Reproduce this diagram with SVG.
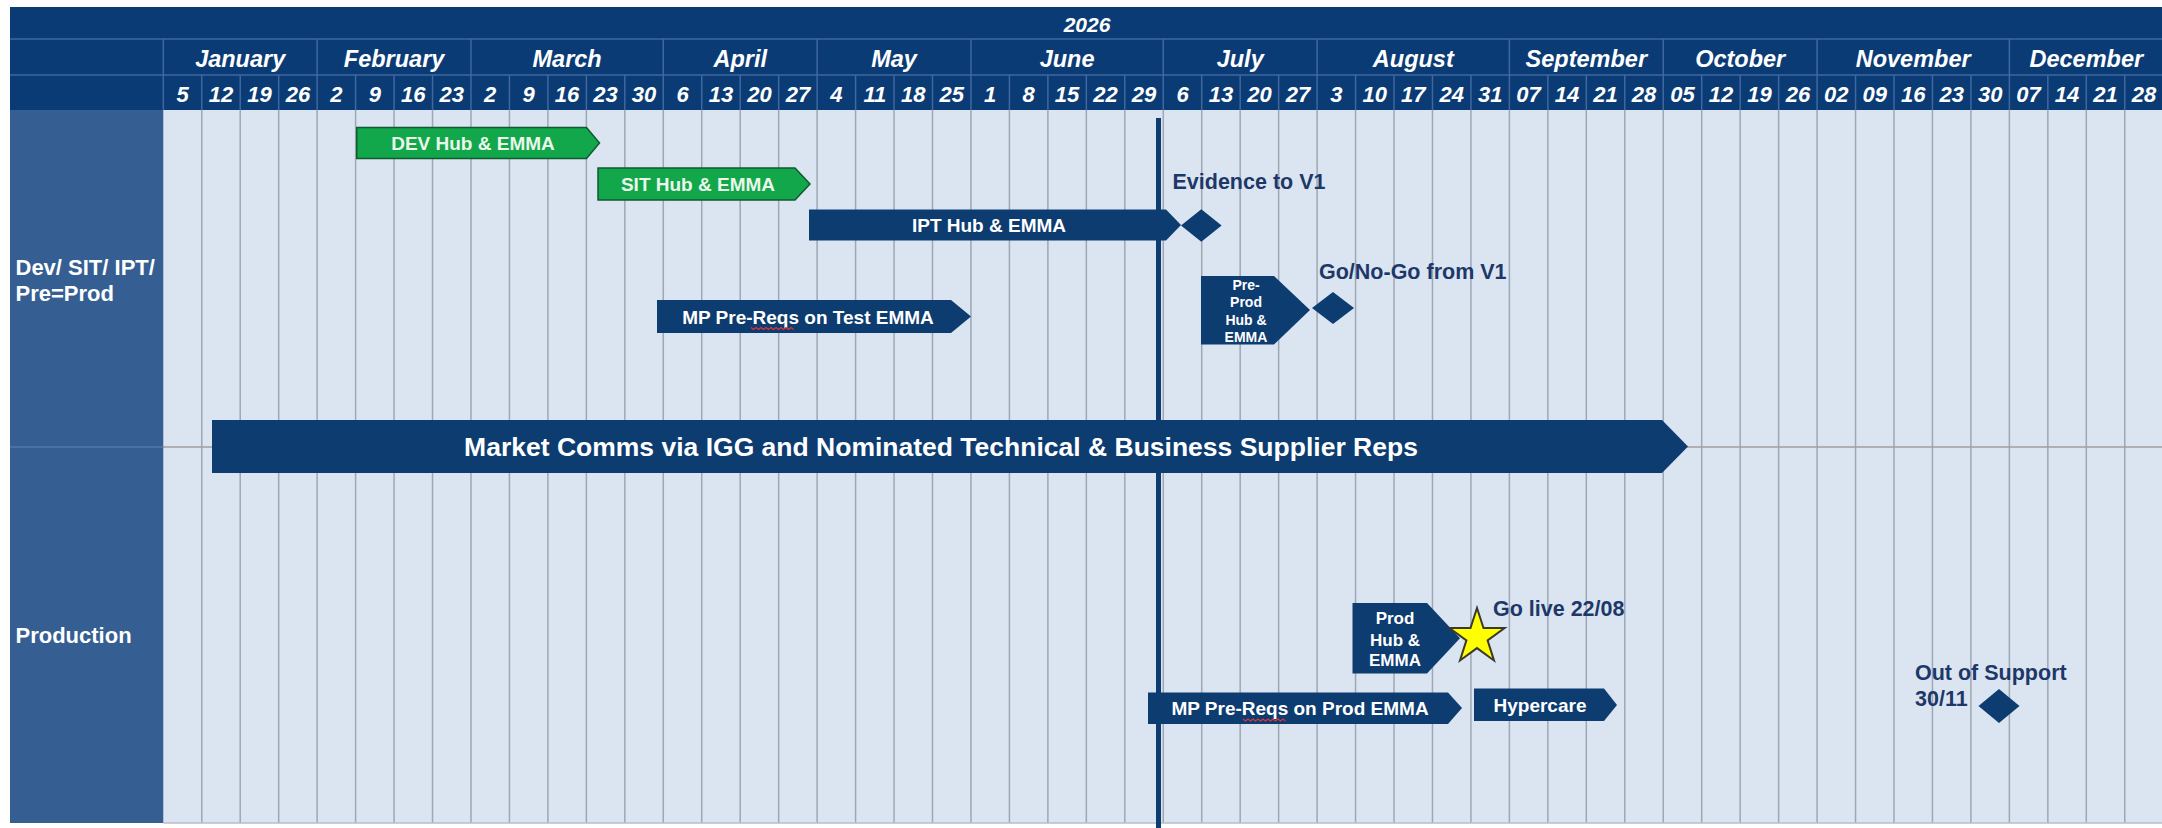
<svg xmlns="http://www.w3.org/2000/svg" width="2162" height="828" viewBox="0 0 2162 828">
<defs>
<style>
.hdrtxt{font-family:"Liberation Sans",Arial,sans-serif;font-weight:bold;font-style:italic;fill:#ffffff;text-anchor:middle}
.yr{font-size:21px}
.mon{font-size:23.5px}
.wk{font-size:22px}
.lbl{font-family:"Liberation Sans",Arial,sans-serif;font-weight:bold;fill:#ffffff;font-size:22px}
.bt{font-family:"Liberation Sans",Arial,sans-serif;font-weight:bold;fill:#ffffff;font-size:19px;text-anchor:middle}
.gt{fill:#eaf7ea}
.ms{font-family:"Liberation Sans",Arial,sans-serif;font-weight:bold;fill:#1d3868;font-size:21.5px}
.navy{fill:#0d3c71}
.green{fill:#13a74b;stroke:#0f5a30;stroke-width:1.5}
.grid{stroke:#9ea8b5;stroke-width:1.5}
.hline{stroke:#3f67a0;stroke-width:1.5}
.squig{fill:none;stroke:#e03434;stroke-width:1.2}
</style>
</defs>
<rect x="0" y="0" width="2162" height="828" fill="#ffffff"/>
<g id="header">
<rect x="10" y="7" width="2152" height="103" fill="#0b3b74"/>
<line class="hline" x1="10" y1="39" x2="2162" y2="39"/>
<line class="hline" x1="10" y1="75" x2="2162" y2="75"/>
<g class="hline">
<line x1="163.3" y1="39" x2="163.3" y2="110"/>
<line x1="317.14" y1="39" x2="317.14" y2="75"/>
<line x1="470.98" y1="39" x2="470.98" y2="75"/>
<line x1="663.28" y1="39" x2="663.28" y2="75"/>
<line x1="817.12" y1="39" x2="817.12" y2="75"/>
<line x1="970.96" y1="39" x2="970.96" y2="75"/>
<line x1="1163.26" y1="39" x2="1163.26" y2="75"/>
<line x1="1317.1" y1="39" x2="1317.1" y2="75"/>
<line x1="1509.4" y1="39" x2="1509.4" y2="75"/>
<line x1="1663.24" y1="39" x2="1663.24" y2="75"/>
<line x1="1817.08" y1="39" x2="1817.08" y2="75"/>
<line x1="2009.38" y1="39" x2="2009.38" y2="75"/>
</g>
<path class="hline" d="M201.76 75V110M240.22 75V110M278.68 75V110M317.14 75V110M355.6 75V110M394.06 75V110M432.52 75V110M470.98 75V110M509.44 75V110M547.9 75V110M586.36 75V110M624.82 75V110M663.28 75V110M701.74 75V110M740.2 75V110M778.66 75V110M817.12 75V110M855.58 75V110M894.04 75V110M932.5 75V110M970.96 75V110M1009.42 75V110M1047.88 75V110M1086.34 75V110M1124.8 75V110M1163.26 75V110M1201.72 75V110M1240.18 75V110M1278.64 75V110M1317.1 75V110M1355.56 75V110M1394.02 75V110M1432.48 75V110M1470.94 75V110M1509.4 75V110M1547.86 75V110M1586.32 75V110M1624.78 75V110M1663.24 75V110M1701.7 75V110M1740.16 75V110M1778.62 75V110M1817.08 75V110M1855.54 75V110M1894 75V110M1932.46 75V110M1970.92 75V110M2009.38 75V110M2047.84 75V110M2086.3 75V110M2124.76 75V110"/>
<text class="hdrtxt yr" x="1087" y="32">2026</text>
<g class="hdrtxt mon">
<text x="240.2" y="66.5">January</text>
<text x="394.1" y="66.5">February</text>
<text x="567.1" y="66.5">March</text>
<text x="740.2" y="66.5">April</text>
<text x="894" y="66.5">May</text>
<text x="1067.1" y="66.5">June</text>
<text x="1240.2" y="66.5">July</text>
<text x="1413.3" y="66.5">August</text>
<text x="1586.3" y="66.5">September</text>
<text x="1740.2" y="66.5">October</text>
<text x="1913.2" y="66.5">November</text>
<text x="2086.3" y="66.5">December</text>
</g>
<g class="hdrtxt wk">
<text x="182.5" y="101.5">5</text>
<text x="221" y="101.5">12</text>
<text x="259.5" y="101.5">19</text>
<text x="297.9" y="101.5">26</text>
<text x="336.4" y="101.5">2</text>
<text x="374.8" y="101.5">9</text>
<text x="413.3" y="101.5">16</text>
<text x="451.8" y="101.5">23</text>
<text x="490.2" y="101.5">2</text>
<text x="528.7" y="101.5">9</text>
<text x="567.1" y="101.5">16</text>
<text x="605.6" y="101.5">23</text>
<text x="644.1" y="101.5">30</text>
<text x="682.5" y="101.5">6</text>
<text x="721" y="101.5">13</text>
<text x="759.4" y="101.5">20</text>
<text x="797.9" y="101.5">27</text>
<text x="836.4" y="101.5">4</text>
<text x="874.8" y="101.5">11</text>
<text x="913.3" y="101.5">18</text>
<text x="951.7" y="101.5">25</text>
<text x="990.2" y="101.5">1</text>
<text x="1028.7" y="101.5">8</text>
<text x="1067.1" y="101.5">15</text>
<text x="1105.6" y="101.5">22</text>
<text x="1144" y="101.5">29</text>
<text x="1182.5" y="101.5">6</text>
<text x="1221" y="101.5">13</text>
<text x="1259.4" y="101.5">20</text>
<text x="1297.9" y="101.5">27</text>
<text x="1336.3" y="101.5">3</text>
<text x="1374.8" y="101.5">10</text>
<text x="1413.3" y="101.5">17</text>
<text x="1451.7" y="101.5">24</text>
<text x="1490.2" y="101.5">31</text>
<text x="1528.6" y="101.5">07</text>
<text x="1567.1" y="101.5">14</text>
<text x="1605.6" y="101.5">21</text>
<text x="1644" y="101.5">28</text>
<text x="1682.5" y="101.5">05</text>
<text x="1720.9" y="101.5">12</text>
<text x="1759.4" y="101.5">19</text>
<text x="1797.9" y="101.5">26</text>
<text x="1836.3" y="101.5">02</text>
<text x="1874.8" y="101.5">09</text>
<text x="1913.2" y="101.5">16</text>
<text x="1951.7" y="101.5">23</text>
<text x="1990.2" y="101.5">30</text>
<text x="2028.6" y="101.5">07</text>
<text x="2067.1" y="101.5">14</text>
<text x="2105.5" y="101.5">21</text>
<text x="2144" y="101.5">28</text>
</g>
</g>
<g id="body">
<rect x="163.3" y="110" width="1999" height="713" fill="#dbe5f1"/>
<path class="grid" d="M201.76 110V823M240.22 110V823M278.68 110V823M317.14 110V823M355.6 110V823M394.06 110V823M432.52 110V823M470.98 110V823M509.44 110V823M547.9 110V823M586.36 110V823M624.82 110V823M663.28 110V823M701.74 110V823M740.2 110V823M778.66 110V823M817.12 110V823M855.58 110V823M894.04 110V823M932.5 110V823M970.96 110V823M1009.42 110V823M1047.88 110V823M1086.34 110V823M1124.8 110V823M1163.26 110V823M1201.72 110V823M1240.18 110V823M1278.64 110V823M1317.1 110V823M1355.56 110V823M1394.02 110V823M1432.48 110V823M1470.94 110V823M1509.4 110V823M1547.86 110V823M1586.32 110V823M1624.78 110V823M1663.24 110V823M1701.7 110V823M1740.16 110V823M1778.62 110V823M1817.08 110V823M1855.54 110V823M1894 110V823M1932.46 110V823M1970.92 110V823M2009.38 110V823M2047.84 110V823M2086.3 110V823M2124.76 110V823"/>
<line x1="163.3" y1="447" x2="2162" y2="447" stroke="#a39e9a" stroke-width="1.5"/>
<line x1="163.3" y1="823" x2="2162" y2="823" stroke="#b8bec6" stroke-width="1.5"/>
</g>
<g id="lane-devsit">
<rect x="10" y="110" width="153.3" height="337" fill="#355e92"/>
<text class="lbl" x="15.5" y="275">Dev/ SIT/ IPT/</text>
<text class="lbl" x="15.5" y="301">Pre=Prod</text>
</g>
<g id="lane-production">
<rect x="10" y="447" width="153.3" height="376" fill="#355e92"/>
<line x1="10" y1="447" x2="163.3" y2="447" stroke="#5378a8" stroke-width="1.5"/>
<text class="lbl" x="15.5" y="643">Production</text>
</g>
<g id="today-line">
<rect x="1156" y="118" width="5" height="710" fill="#0d3c71"/>
</g>
<g id="connectors"></g>
<g id="bar-dev">
<path class="green" d="M356.7 127.5H586.5L599.5 143L586.5 158.5H356.7Z"/>
<text class="bt gt" x="473" y="150">DEV Hub &amp; EMMA</text>
</g>
<g id="bar-sit">
<path class="green" d="M598 168H795L810 184L795 200H598Z"/>
<text class="bt gt" x="698" y="191">SIT Hub &amp; EMMA</text>
</g>
<g id="bar-ipt">
<path class="navy" d="M809 209.5H1166L1181 225L1166 240.5H809Z"/>
<text class="bt" x="989" y="232">IPT Hub &amp; EMMA</text>
</g>
<g id="ms-evidence">
<path class="navy" d="M1181 225.5L1201.3 209.3L1221.6 225.5L1201.3 241.7Z"/>
<text class="ms" x="1172.5" y="188.5">Evidence to V1</text>
</g>
<g id="bar-mp-test">
<path class="navy" d="M657 300H951L971 316.5L951 333H657Z"/>
<text class="bt" x="808" y="323.5">MP Pre-Reqs on Test EMMA</text>
<path class="squig" d="M751 327.5l2.5 2l2.5-2l2.5 2l2.5-2l2.5 2l2.5-2l2.5 2l2.5-2l2.5 2l2.5-2l2.5 2l2.5-2l2.5 2l2.5-2l2.5 2l2.5-2l2.5 2"/>
</g>
<g id="bar-preprod">
<path class="navy" d="M1201 276H1274L1310 310L1274 344.5H1201Z"/>
<g class="bt" style="font-size:14px">
<text x="1246" y="290">Pre-</text>
<text x="1246" y="307.3">Prod</text>
<text x="1246" y="325">Hub &amp;</text>
<text x="1246" y="341.7">EMMA</text>
</g>
</g>
<g id="ms-gonogo">
<path class="navy" d="M1312 308L1333 292L1354 308L1333 324Z"/>
<text class="ms" x="1319" y="278.5">Go/No-Go from V1</text>
</g>
<g id="bar-market-comms">
<path class="navy" d="M212 420H1662L1688 446.5L1662 473H212Z"/>
<text class="bt" style="font-size:26.5px" x="941" y="456">Market Comms via IGG and Nominated Technical &amp; Business Supplier Reps</text>
</g>
<g id="bar-prod">
<path class="navy" d="M1352.5 603H1427L1460 638.3L1427 673.5H1352.5Z"/>
<g class="bt" style="font-size:17px">
<text x="1395" y="624.3">Prod</text>
<text x="1395" y="646">Hub &amp;</text>
<text x="1395" y="666">EMMA</text>
</g>
</g>
<g id="ms-golive">
<path d="M1477 608L1483.5 628L1504.6 628L1487.6 640.4L1494 660.5L1477 648.1L1460 660.5L1466.4 640.4L1449.4 628L1470.5 628Z" fill="#ffff00" stroke="#3a3a2a" stroke-width="2" stroke-linejoin="miter"/>
<text class="ms" x="1493" y="615.5">Go live 22/08</text>
</g>
<g id="bar-mp-prod">
<path class="navy" d="M1148 692.5H1448L1462 708L1448 724H1148Z"/>
<text class="bt" x="1300" y="715">MP Pre-Reqs on Prod EMMA</text>
<path class="squig" d="M1243 719l2.5 2l2.5-2l2.5 2l2.5-2l2.5 2l2.5-2l2.5 2l2.5-2l2.5 2l2.5-2l2.5 2l2.5-2l2.5 2l2.5-2l2.5 2l2.5-2l2.5 2"/>
</g>
<g id="bar-hypercare">
<path class="navy" d="M1474 688.5H1604L1617 705L1604 721H1474Z"/>
<text class="bt" x="1540" y="712">Hypercare</text>
</g>
<g id="ms-out-of-support">
<path class="navy" d="M1978.5 706L1999 689L2019.5 706L1999 723Z"/>
<text class="ms" x="1915" y="680">Out of Support</text>
<text class="ms" x="1915" y="706">30/11</text>
</g>
</svg>
